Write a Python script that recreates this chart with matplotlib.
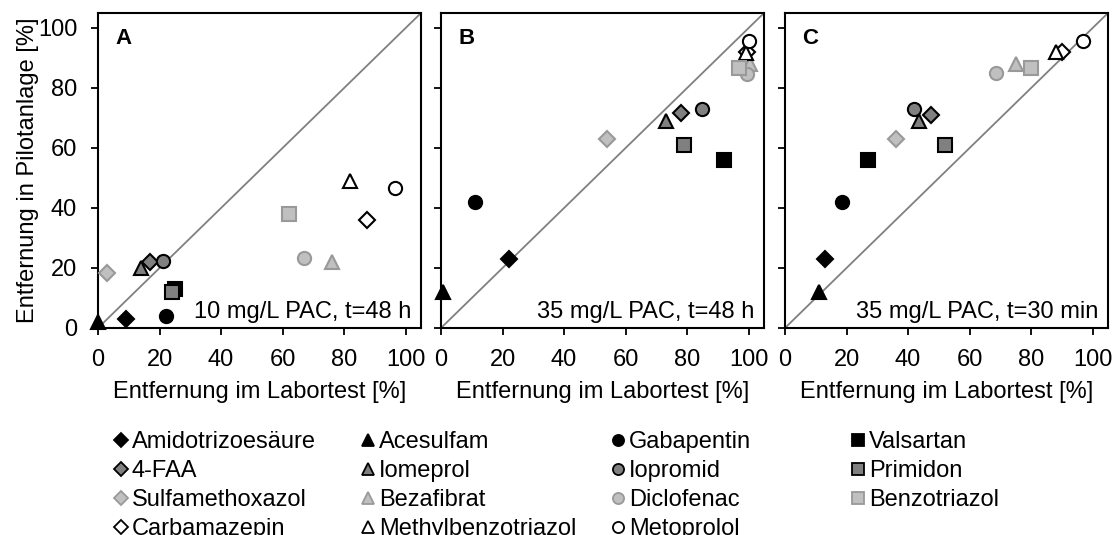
import numpy as np
import matplotlib.pyplot as plt

plt.rcParams['font.family'] = ['Liberation Sans', 'DejaVu Sans']

# ---------------------------------------------------
# Data: removal in lab test (x) vs pilot plant (y), [%]
# ---------------------------------------------------

compounds = ["Amidotrizoesäure", "4-FAA", "Sulfamethoxazol", "Carbamazepin",
             "Acesulfam", "Iomeprol", "Bezafibrat", "Methylbenzotriazol",
             "Gabapentin", "Iopromid", "Diclofenac", "Metoprolol",
             "Valsartan", "Primidon", "Benzotriazol"]

# panel A: 10 mg/L PAC, t=48 h
lab_A = [9, 17, 3, 87.5, 0, 14, 76, 82, 22, 21, 67, 96.5, 25, 24, 62]
pilot_A = [3, 22, 18.5, 36, 2, 20, 22, 49, 4, 22.5, 23.5, 46.5, 13, 12, 38]

# panel B: 35 mg/L PAC, t=48 h
lab_B = [22, 78, 54, 99.5, 0.5, 73, 100.5, 99, 11, 85, 99.5, 100, 92, 79, 97]
pilot_B = [23, 71.5, 63, 92, 12, 69, 88, 91.5, 42, 73, 84.5, 95.5, 56, 61, 86.5]

# panel C: 35 mg/L PAC, t=30 min
lab_C = [13, 47.5, 36, 90, 11, 43.5, 75, 88, 18.5, 42, 68.5, 97, 27, 52, 80]
pilot_C = [23, 71, 63, 92, 12, 69, 88, 92, 42, 73, 85, 95.5, 56, 61, 86.5]

panel_letters = ["A", "B", "C"]
panel_notes = ["10 mg/L PAC, t=48 h", "35 mg/L PAC, t=48 h", "35 mg/L PAC, t=30 min"]

# marker shape per group of four, shade per position
shapes = ["D"] * 4 + ["^"] * 4 + ["o"] * 4 + ["s"] * 3
faces = ["black", "#808080", "#c0c0c0", "white"] * 4
edges = ["black", "black", "#999999", "black"] * 4

# ---------------------------------------------------
# Plot
# ---------------------------------------------------

fig = plt.figure(figsize=(11.16, 5.35), dpi=100)

lefts = [98 / 1116, 441 / 1116, 785 / 1116]
bottom = 1 - 328 / 535
width = 323 / 1116
height = 315 / 535

data = [(lab_A, pilot_A), (lab_B, pilot_B), (lab_C, pilot_C)]

for k, (xs, ys) in enumerate(data):
    ax = fig.add_axes([lefts[k], bottom, width, height])
    ax.plot([0, 105], [0, 105], color="#808080", lw=1.3, zorder=1)
    for i in range(len(compounds)):
        ms = 8 if shapes[i] == "D" else 9.5
        ax.plot(xs[i], ys[i], marker=shapes[i], ms=ms, mfc=faces[i],
                mec=edges[i], mew=1.5, ls="none", zorder=3, clip_on=False)
    ax.set_xlim(0, 105)
    ax.set_ylim(0, 105)
    ax.set_xticks(np.arange(0, 101, 20))
    ax.set_yticks(np.arange(0, 101, 20))
    ax.tick_params(direction="out", length=5, width=1.3, labelsize=17)
    ax.tick_params(axis="x", pad=10)
    ax.tick_params(axis="y", pad=10)
    if k > 0:
        ax.set_yticklabels([])
    for sp in ax.spines.values():
        sp.set_linewidth(1.5)
    ax.set_xlabel("Entfernung im Labortest [%]", fontsize=17, labelpad=7)
    ax.text(0.053, 0.952, panel_letters[k], transform=ax.transAxes,
            fontsize=16, fontweight="bold", va="top", ha="left")
    ax.text(0.97, 0.015, panel_notes[k], transform=ax.transAxes,
            fontsize=17, va="bottom", ha="right")
    if k == 0:
        ax.set_ylabel("Entfernung in Pilotanlage [%]", fontsize=17, labelpad=-1)

handles = []
for i in range(len(compounds)):
    h, = plt.plot([], [], marker=shapes[i], ms=7 if shapes[i] == "D" else 8,
                  mfc=faces[i], mec=edges[i], mew=1.3, ls="none")
    handles.append(h)

# one legend per marker shape, placed as four columns
col_left = [114, 361, 611, 851]
for c in range(4):
    idx = [j for j in range(len(compounds)) if j // 4 == c]
    fig.legend([handles[j] for j in idx], [compounds[j] for j in idx],
               loc="upper left", bbox_to_anchor=(col_left[c] / 1116, 1 - 431 / 535),
               frameon=False, fontsize=17, handlelength=0.6, handletextpad=0.15,
               labelspacing=0.30, borderpad=0, borderaxespad=0)

fig.savefig("out.png", dpi=100)
